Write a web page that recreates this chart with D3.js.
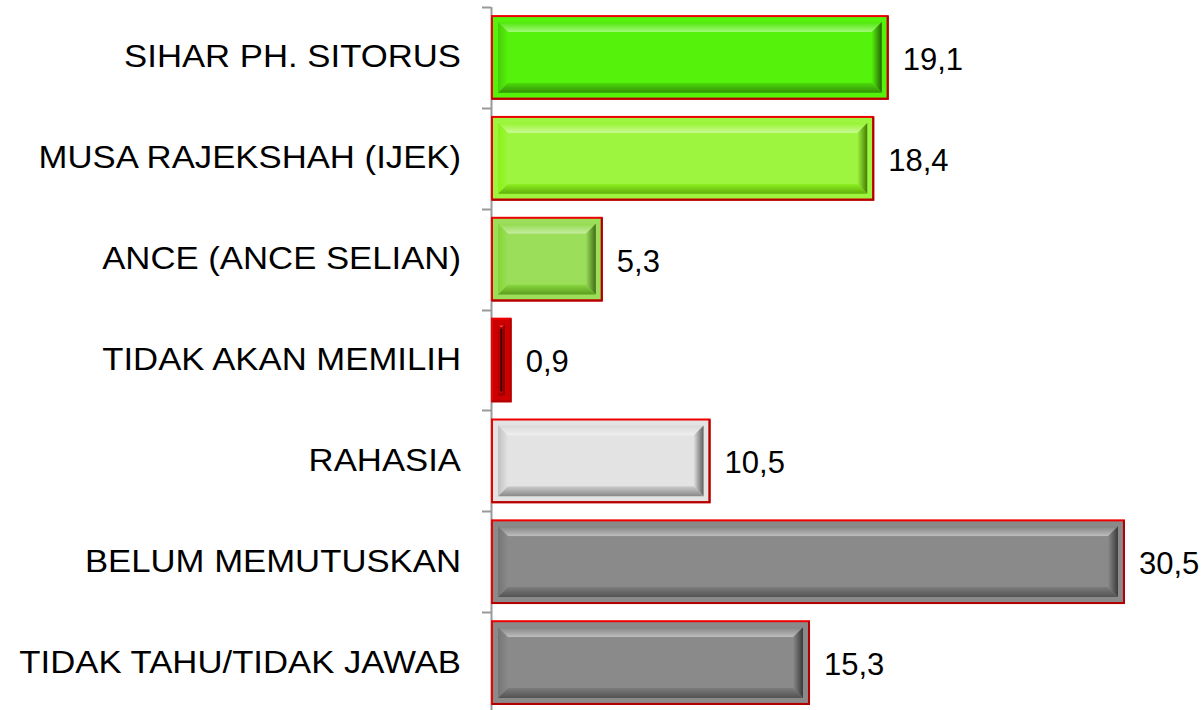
<!DOCTYPE html>
<html><head><meta charset="utf-8">
<script src="https://cdn.jsdelivr.net/npm/d3@7"></script>
<style>body{margin:0;background:#fff}svg{display:block}</style>
</head><body>
<svg id="chart" width="1204" height="710"></svg>
<script>
const categories = ["SIHAR PH. SITORUS","MUSA RAJEKSHAH (IJEK)","ANCE (ANCE SELIAN)","TIDAK AKAN MEMILIH","RAHASIA","BELUM MEMUTUSKAN","TIDAK TAHU/TIDAK JAWAB"];
const values = [19.1, 18.4, 5.3, 0.9, 10.5, 30.5, 15.3];
const valueLabels = ["19,1","18,4","5,3","0,9","10,5","30,5","15,3"];
const colors = ["#55f20b","#9ef53f","#9ade5a","#cc0000","#e3e3e3","#8a8a8a","#8a8a8a"];

const svg = d3.select("#chart");
const x = d3.scaleLinear().domain([0, 35]).range([491, 1216.2]);
const y = d3.scaleBand().domain(categories).range([7, 713]).paddingInner(0.18).paddingOuter(0.09);
const step = y.step();

// axis line and ticks
svg.append("line").attr("x1", 491.5).attr("x2", 491.5).attr("y1", 7).attr("y2", 713)
  .attr("stroke", "#999").attr("stroke-width", 2);
d3.range(categories.length + 1).forEach(i => {
  const yy = Math.round(7 + i * step) + 0.5;
  svg.append("line").attr("x1", 482).attr("x2", 491).attr("y1", yy).attr("y2", yy)
    .attr("stroke", "#999").attr("stroke-width", 2);
});

// category labels (horizontally stretched like the original)
svg.append("g").selectAll("text").data(categories).join("text")
  .attr("transform", d => `translate(461,${y(d) + y.bandwidth() / 2}) scale(1.12,1)`)
  .attr("dy", "0.32em").attr("text-anchor", "end")
  .attr("font-family", "'Liberation Sans', Arial, sans-serif").attr("font-size", 31)
  .attr("fill", "#000").text(d => d);

const data = categories.map((c, i) => ({c, v: values[i], lab: valueLabels[i], col: colors[i]}));
const defs = svg.append("defs");
const g = svg.append("g");
data.forEach((d, k) => {
  const x0 = x(0) + 1, x1 = x(d.v) + 1, y0 = y(d.c), y1 = y0 + y.bandwidth();
  const base = d3.color(d.col);
  const hsl = d3.hsl(base);
  const L = (f) => d3.hsl(hsl.h, hsl.s, Math.max(0, Math.min(0.98, f))).formatHex();
  const light = L(hsl.l + (1 - hsl.l) * 0.45);
  const midL = L(hsl.l * 0.85);
  const dark = L(hsl.l * 0.6);
  const darker = L(hsl.l * 0.42);
  const mk = (id, x1g, y1g, x2g, y2g, c1, c2) => {
    const gr = defs.append("linearGradient").attr("id", id)
      .attr("x1", x1g).attr("y1", y1g).attr("x2", x2g).attr("y2", y2g);
    gr.append("stop").attr("offset", 0).attr("stop-color", c1);
    gr.append("stop").attr("offset", 1).attr("stop-color", c2);
    return `url(#${id})`;
  };
  const gTop = mk("gt" + k, 0, 0, 0, 1, L(hsl.l * 0.95), light);
  const gLeft = mk("gl" + k, 0, 0, 1, 0, midL, base.formatHex());
  const gRight = mk("gr" + k, 0, 0, 1, 0, base.formatHex(), darker);
  const gBot = mk("gb" + k, 0, 0, 0, 1, L(hsl.l * 0.9), dark);

  const bg = g.append("g");
  bg.append("rect").attr("x", x0).attr("y", y0).attr("width", x1 - x0).attr("height", y1 - y0)
    .attr("fill", base).attr("stroke", "#ee0000").attr("stroke-width", 2);
  // darker red on the bottom and right of the frame
  bg.append("polyline").attr("points", `${x1},${y0} ${x1},${y1} ${x0},${y1}`)
    .attr("fill", "none").attr("stroke", "#b00000").attr("stroke-width", 2);
  const inset = 6;
  const ox0 = x0 + inset, ox1 = x1 - inset, oy0 = y0 + inset, oy1 = y1 - inset;
  const bw = Math.max(0, Math.min(10, (ox1 - ox0) / 2 - 1, (oy1 - oy0) / 2 - 1));
  const ix0 = ox0 + bw, ix1 = ox1 - bw, iy0 = oy0 + bw, iy1 = oy1 - bw;
  const poly = (pts, fill) => bg.append("polygon").attr("points", pts.map(p => p.join(",")).join(" ")).attr("fill", fill);
  if (ox1 > ox0) {
    poly([[ox0, oy0], [ox1, oy0], [ix1, iy0], [ix0, iy0]], gTop);
    poly([[ox0, oy0], [ix0, iy0], [ix0, iy1], [ox0, oy1]], gLeft);
    poly([[ox1, oy0], [ox1, oy1], [ix1, iy1], [ix1, iy0]], gRight);
    poly([[ox0, oy1], [ix0, iy1], [ix1, iy1], [ox1, oy1]], gBot);
    if (ix1 - ix0 > 4) bg.append("rect").attr("x", ix0).attr("y", iy0).attr("width", ix1 - ix0).attr("height", iy1 - iy0).attr("fill", base);
    else bg.append("line").attr("x1", (ox0 + ox1) / 2).attr("x2", (ox0 + ox1) / 2).attr("y1", oy0 + 4).attr("y2", oy1 - 4).attr("stroke", "#3a0000").attr("stroke-width", 2);
  }
  g.append("text").attr("x", x1 + 15).attr("y", y0 + y.bandwidth() / 2).attr("dy", "0.4em")
    .attr("font-family", "'Liberation Sans', Arial, sans-serif").attr("font-size", 31)
    .attr("fill", "#000").text(d.lab);
});
</script>
</body></html>
